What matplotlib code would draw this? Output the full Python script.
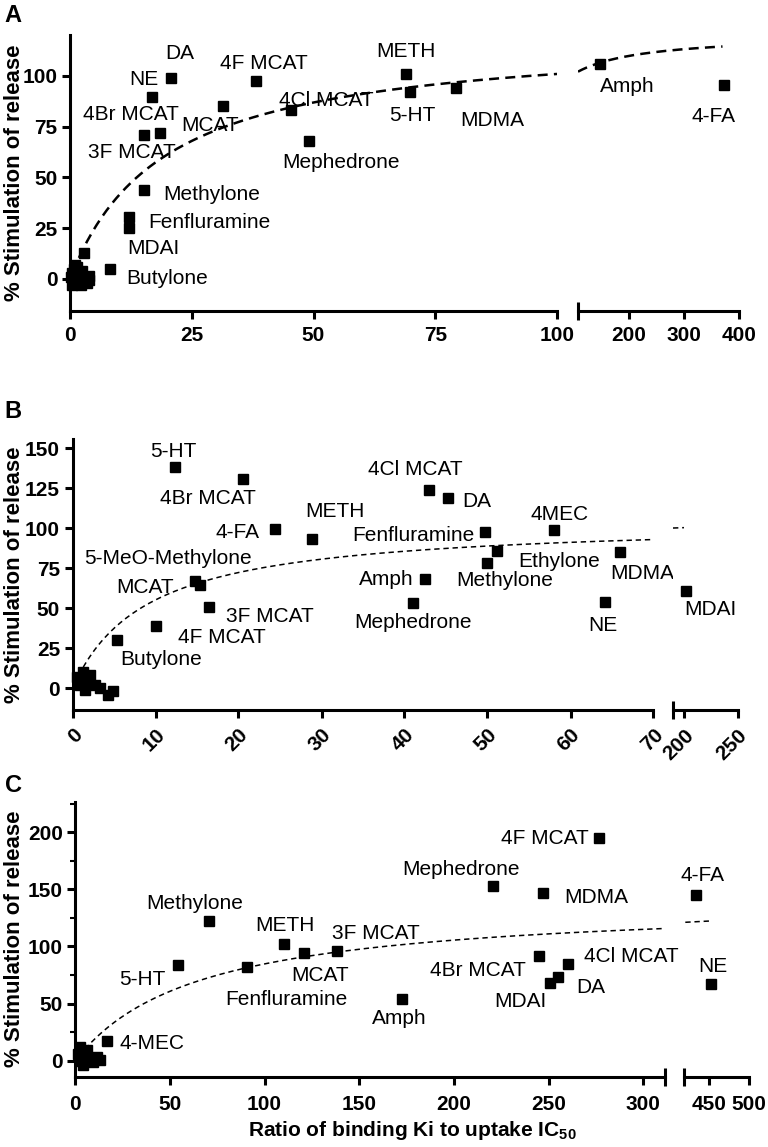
import numpy as np
import matplotlib.pyplot as plt

plt.rcParams['font.family'] = ['Liberation Sans', 'DejaVu Sans']
plt.rcParams['mathtext.fontset'] = 'custom'
plt.rcParams['mathtext.rm'] = 'Liberation Sans'
plt.rcParams['mathtext.bf'] = 'Liberation Sans:bold'

# ---- panel A data ----
names_a = ["DA", "NE", "4F MCAT", "4Br MCAT", "3F MCAT", "MCAT", "4Cl MCAT", "Mephedrone",
           "Methylone", "Fenfluramine", "MDAI", "Butylone", "METH", "5-HT", "MDMA", "Amph", "4-FA"]
x_a = [20.7, 16.8, 38.1, 18.5, 15.2, 31.5, 45.3, 49.1, 15.1, 12.1, 12.1, 8.2, 68.9, 69.8, 79.3, 147, 373]
y_a = [99, 89.8, 97.7, 71.8, 70.9, 85.2, 83.2, 67.8, 44, 30.5, 25, 4.8, 101, 92, 94, 105.7, 95.6]
cluster_x_a = [2.9, 0.3, 0.6, 1.0, 1.3, 1.6, 2.0, 2.4, 2.8, 3.3, 0.8, 1.8, 0.5, 1.1,
               3.8, 4.0, 3.4, 2.5, 1.5, 0.4, 2.2]
cluster_y_a = [13, 1, -1, 3, 0, 2, -2, 1, 0, 1, 5, -1, -3, 7,
               1.5, -0.5, -2, 4, 6, 3, -3]
fit_a = (120.5, 19.3)  # Bmax, K

# ---- panel B data ----
names_b = ["5-HT", "4Br MCAT", "4-FA", "METH", "5-MeO-Methylone", "MCAT", "3F MCAT", "4F MCAT",
           "Butylone", "Fenfluramine", "4Cl MCAT", "DA", "4MEC", "Ethylone", "Methylone", "Amph",
           "Mephedrone", "MDMA", "NE", "MDAI"]
x_b = [12.3, 20.6, 24.4, 28.9, 14.8, 15.4, 16.5, 10.1, 5.4, 49.7, 42.9, 45.2, 58, 51.1, 50, 42.5,
       41, 66, 64.1, 201.9]
y_b = [138, 130.6, 99.4, 93, 67.3, 64.6, 50.6, 39, 30.2, 97.5, 124, 118.7, 99, 85.8, 78, 68,
       53, 85, 53.7, 61]
cluster_x_b = [0.5, 1.3, 2.1, 0.9, 1.5, 2.7, 3.3, 4.3, 4.9, 1.6]
cluster_y_b = [7.3, 10.4, 8.3, 2, -1, 2, 0, -4, -2, 3.6]
fit_b = (104.9, 9.0)

# ---- panel C data ----
names_c = ["Methylone", "5-HT", "METH", "MCAT", "3F MCAT", "Fenfluramine", "4-MEC", "Amph",
           "4F MCAT", "Mephedrone", "MDMA", "4-FA", "4Br MCAT", "4Cl MCAT", "DA", "MDAI", "NE"]
x_c = [70.8, 54.4, 110.2, 121, 138.4, 90.9, 16.6, 172.4, 276.8, 220.8, 246.9, 433.4, 245.1,
       260.4, 255.2, 250.8, 452]
y_c = [122, 83.6, 102.5, 93.8, 96.1, 81.6, 17.2, 53.6, 194.8, 152.6, 147, 145.3, 91.7, 85,
       73.4, 68.1, 66.7]
cluster_x_c = [2.5, 6, 2.5, 4.2, 7.8, 11.3, 13, 1.5, 9.5, 5]
cluster_y_c = [12.2, 9.3, 0, -3.8, 2, 3.5, 0.6, 6, -1, 4]
fit_c = (139.9, 65.2)

# label offsets in pixels (dx, dy up)
offs_a = {"DA": (9, 25), "NE": (-8, 17), "4F MCAT": (8, 17), "4Br MCAT": (-29, 19),
          "3F MCAT": (-12, -17), "MCAT": (-13, -19), "4Cl MCAT": (36, 10), "Mephedrone": (32, -21),
          "Methylone": (68, -5), "Fenfluramine": (80, -5), "MDAI": (24, -20), "Butylone": (57, -9),
          "METH": (0, 22), "5-HT": (2, -23), "MDMA": (36, -32), "Amph": (27, -22), "4-FA": (-11, -32)}
offs_b = {"5-HT": (-1, 16), "4Br MCAT": (-36, -19), "4-FA": (-38, -3), "METH": (23, 28),
          "5-MeO-Methylone": (-27, 22), "MCAT": (-55, -3), "3F MCAT": (60, -9), "4F MCAT": (66, -12),
          "Butylone": (44, -20), "Fenfluramine": (-72, -3), "4Cl MCAT": (-13, 20), "DA": (29, -3),
          "4MEC": (6, 15), "Ethylone": (62, -11), "Methylone": (17, -17), "Amph": (-39, 0),
          "Mephedrone": (0, -19), "MDMA": (22, -21), "NE": (-2, -23), "MDAI": (24, -19)}
offs_c = {"Methylone": (-15, 18), "5-HT": (-36, -14), "METH": (1, 18), "MCAT": (16, -22),
          "3F MCAT": (39, 17), "Fenfluramine": (39, -32), "4-MEC": (45, -2), "Amph": (-2, -19),
          "4F MCAT": (-54, 0), "Mephedrone": (-32, 17), "MDMA": (54, -5), "4-FA": (6, 19),
          "4Br MCAT": (-61, -15), "4Cl MCAT": (63, 7), "DA": (32, -11), "MDAI": (-30, -19), "NE": (2, 18)}

W, H = 768, 1147
LW = 2.2
fig = plt.figure(figsize=(W / 100, H / 100), dpi=100)


def add_ax(x0, x1, ytop, ybot):
    return fig.add_axes([x0 / W, 1 - ybot / H, (x1 - x0) / W, (ybot - ytop) / H])


def panel(box_l, box_r, ytop, ybot, xlim_l, xlim_r, ylim, yticks, xt_l, xt_r,
          names, xs, ys, offs, cx, cy, fit, rng_l, rng_r, line_kw, rot=0, yminor=None, xpad=6):
    axl = add_ax(box_l[0], box_l[1], ytop, ybot)
    axr = add_ax(box_r[0], box_r[1], ytop, ybot)
    bmax, k = fit
    for ax, xl, xt, rng in ((axl, xlim_l, xt_l, rng_l), (axr, xlim_r, xt_r, rng_r)):
        ax.set_xlim(*xl)
        ax.set_ylim(*ylim)
        for s in ('top', 'right'):
            ax.spines[s].set_visible(False)
        for s in ('left', 'bottom'):
            ax.spines[s].set_linewidth(LW)
        ax.set_xticks(xt)
        ax.tick_params(which='major', direction='out', length=6, width=LW, labelsize=15, pad=3)
        ax.tick_params(axis='x', which='major', pad=xpad)
        xx = np.linspace(rng[0], rng[1], 200)
        ax.plot(xx, bmax * xx / (k + xx), color='black', **line_kw)
        for lab in ax.get_xticklabels() + ax.get_yticklabels():
            lab.set_fontweight('bold')
        if rot:
            for lab in ax.get_xticklabels():
                lab.set_rotation(rot)
                lab.set_ha('right')
                lab.set_va('top')
                lab.set_rotation_mode('anchor')
    axl.set_xticks([xlim_l[1]], minor=True)
    axr.set_xticks([xlim_r[0]], minor=True)
    for ax in (axl, axr):
        ax.tick_params(axis='x', which='minor', direction='inout', length=13, width=LW)
    axl.set_yticks(yticks)
    for lab in axl.get_yticklabels():
        lab.set_fontweight('bold')
    if yminor is not None:
        axl.set_yticks(yminor, minor=True)
        axl.tick_params(axis='y', which='minor', direction='out', length=3.5, width=1.5)
    axr.spines['left'].set_visible(False)
    axr.tick_params(axis='y', which='both', left=False, labelleft=False)

    axl.plot(cx, cy, 's', color='black', ms=7, clip_on=False, zorder=5)
    for n, x, y in zip(names, xs, ys):
        ax = axl if x <= xlim_l[1] else axr
        ax.plot([x], [y], 's', color='black', ms=7, clip_on=False, zorder=5)
        dx, dy = offs[n]
        ax.annotate(n, (x, y), xytext=(dx, dy), textcoords='offset pixels',
                    ha='center', va='center', fontsize=15, annotation_clip=False)
    fig.text(15 / W, 1 - (ytop + ybot) / 2 / H, '% Stimulation of release', rotation=90,
             ha='center', va='center', fontsize=16, fontweight='bold')
    return axl, axr


thick = dict(lw=1.8, ls=(0, (4, 2.5)))
thin = dict(lw=1.1, ls=(0, (3.5, 2.5)))

panel((70, 557), (578, 739), 35, 311, (0, 100), (107.3, 400), (-15.8, 120.2),
      [0, 25, 50, 75, 100], [0, 25, 50, 75, 100], [200, 300, 400],
      names_a, x_a, y_a, offs_a, cluster_x_a, cluster_y_a, fit_a, (0.5, 100), (107.3, 370), thick,
      xpad=5)

panel((72.5, 653.5), (673, 737.7), 439, 710, (0, 70), (189.8, 250), (-13.6, 155.8),
      [0, 25, 50, 75, 100, 125, 150], [0, 10, 20, 30, 40, 50, 60, 70], [200, 250],
      names_b, x_b, y_b, offs_b, cluster_x_b, cluster_y_b, fit_b, (1.3, 70), (189.8, 200), thin,
      rot=45, xpad=5)

panel((75.3, 665), (684.3, 749.3), 801.7, 1076.7, (0, 311.5), (418.75, 500), (-14, 226.6),
      [0, 50, 100, 150, 200], [0, 50, 100, 150, 200, 250, 300], [450, 500],
      names_c, x_c, y_c, offs_c, cluster_x_c, cluster_y_c, fit_c, (2, 310.6), (420, 450), thin,
      yminor=[25, 75, 125, 175, 225], xpad=7)

for letter, yc in (("A", 15), ("B", 412), ("C", 786)):
    fig.text(13 / W, 1 - yc / H, letter, ha='center', va='center', fontsize=17, fontweight='bold')

fig.text(412 / W, 1 - 1130 / H, r'Ratio of binding Ki to uptake $\mathbf{IC_{50}}$',
         ha='center', va='center', fontsize=15, fontweight='bold')

fig.savefig('out.png', dpi=100)
